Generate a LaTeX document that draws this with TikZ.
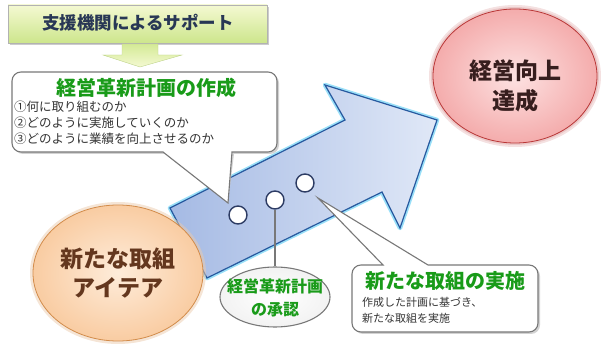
\documentclass[tikz,border=0pt]{standalone}
\usepackage{fontspec}
\newfontfamily\jp{Noto Sans CJK JP}
\usetikzlibrary{shapes.geometric}
\definecolor{ttl}{RGB}{40,55,85}
\definecolor{grn}{RGB}{25,155,25}
\definecolor{boxa}{RGB}{244,249,210}
\definecolor{boxb}{RGB}{205,230,140}
\definecolor{arrL}{RGB}{165,186,228}
\definecolor{arrR}{RGB}{224,232,247}
\definecolor{arrEdge}{RGB}{40,90,160}
\definecolor{glowc}{RGB}{110,210,245}
\definecolor{pinkIn}{RGB}{253,226,226}
\definecolor{pinkOut}{RGB}{244,172,172}
\definecolor{redEdge}{RGB}{185,55,55}
\definecolor{peachIn}{RGB}{254,236,218}
\definecolor{peachOut}{RGB}{249,204,162}
\definecolor{orEdge}{RGB}{210,140,75}
\definecolor{brownT}{RGB}{100,55,30}
\definecolor{goalT}{RGB}{55,30,30}
\definecolor{gryEdge}{RGB}{120,120,120}
\definecolor{dotEdge}{RGB}{45,60,100}
\tikzset{
  callout/.style={draw=gryEdge, line width=1.1pt, fill=white},
  cshadow/.style={fill=gray!35},
  gtitle/.style={text=grn, font=\jp\bfseries\fontsize{20}{22}\selectfont, inner sep=0pt},
  body/.style={anchor=west, text=black!80, inner sep=0pt},
  dot/.style={circle, draw=dotEdge, line width=1.4pt, fill=white, minimum size=18pt, inner sep=0pt},
}
\begin{document}
\begin{tikzpicture}[x=1pt,y=-1pt,font=\jp]
\useasboundingbox (0,0) rectangle (605,352);

% top box
\fill[gray!40] (10,7) rectangle (269,45);
\draw[gray!60, top color=boxa, bottom color=boxb] (8,5) rectangle (267,43);
\node[text=ttl, font=\jp\bfseries\fontsize{17.5}{20}\selectfont, inner sep=0pt] (support) at (138,23) {支援機関によるサポート};
% down arrow
\draw[boxb!80!gray, line width=0.4pt, top color={rgb,255:red,212;green,234;blue,150}, bottom color=boxa]
  (122,44) -- (158,44) -- (158,55) -- (182,55) -- (140,67) -- (103,55) -- (122,55) -- cycle;

% big arrow
\def\bigarrow{(170,208) -- (345,120) -- (325,85) -- (437,120) -- (400,228) -- (382,192) -- (207,278) -- cycle}
\draw[glowc, line width=4.5pt, line join=round, opacity=0.7] \bigarrow;
\fill[left color=arrL, right color=arrR] \bigarrow;
\draw[arrEdge, line width=1.2pt, line join=miter] \bigarrow;

% goal circle
\fill[redEdge!30, opacity=0.5] (515,76) ellipse (86pt and 71pt);
\fill[redEdge!40, opacity=0.5] (515,76) ellipse (84pt and 69pt);
\node[ellipse, minimum width=164pt, minimum height=134pt, inner color=pinkIn, outer color=pinkOut, draw=redEdge, line width=0.8pt] (goal) at (515,76) {};
\node[text=goalT, font=\jp\bfseries\fontsize{23}{30}\selectfont, align=center, inner sep=0pt] (goaltxt) at (515,86) {経営向上\\達成};

% idea circle
\fill[orEdge!45, opacity=0.5] (118,273) ellipse (88pt and 71pt);
\node[ellipse, minimum width=170pt, minimum height=136pt, inner color=peachIn, outer color=peachOut, draw=orEdge, line width=0.8pt] (idea) at (118,273) {};
\node[text=brownT, font=\jp\bfseries\fontsize{23}{29}\selectfont, align=center, inner sep=0pt] (ideatxt) at (118,273) {新たな取組\\アイテア};

% approval oval
\node[ellipse, minimum width=110pt, minimum height=60pt, draw=gryEdge, line width=1.1pt, inner color=white, outer color=gray!10] (approve) at (275,297) {};
\node[text=grn, font=\jp\bfseries\fontsize{16}{23}\selectfont, align=center, inner sep=0pt] (approvetxt) at (275,298) {経営革新計画\\の承認};

% dots on arrow
\node[dot] (c1) at (238,215) {};
\node[dot] (c2) at (275,200) {};
\node[dot] (c3) at (305,183) {};
\draw[gryEdge, line width=1.2pt] (c2.south) -- (approve.north);

% callout 1
\coordinate (tip1) at (228,203);
\def\calloutA{(tip1) -- (163,152) [rounded corners=9pt] -- (12,152) -- (12,72) -- (277,72) -- (277,152) [sharp corners] -- (232,152) -- cycle}
\fill[cshadow, shift={(2,2)}] \calloutA;
\draw[callout] \calloutA;
\node[gtitle] (plan) at (146,88) {経営革新計画の作成};
\node[body, font=\jp\fontsize{12.5}{14}\selectfont] (p1) at (14,107) {①何に取り組むのか};
\node[body, font=\jp\fontsize{12.5}{14}\selectfont] (p2) at (14,123) {②どのように実施していくのか};
\node[body, font=\jp\fontsize{12.5}{14}\selectfont] (p3) at (14,139) {③どのように業績を向上させるのか};

% callout 2
\coordinate (tip2) at (318,198);
\def\calloutB{(tip2) -- (383,265) [rounded corners=9pt] -- (352,265) -- (352,332) -- (538,332) -- (538,265) [sharp corners] -- (428,265) -- cycle}
\fill[cshadow, shift={(2,2)}] \calloutB;
\draw[callout] \calloutB;
\node[gtitle] (impl) at (445,281) {新たな取組の実施};
\node[body, font=\jp\fontsize{11}{13}\selectfont] (i1) at (362,302) {作成した計画に基づき、};
\node[body, font=\jp\fontsize{11}{13}\selectfont] (i2) at (362,318) {新たな取組を実施};
\end{tikzpicture}
\end{document}
